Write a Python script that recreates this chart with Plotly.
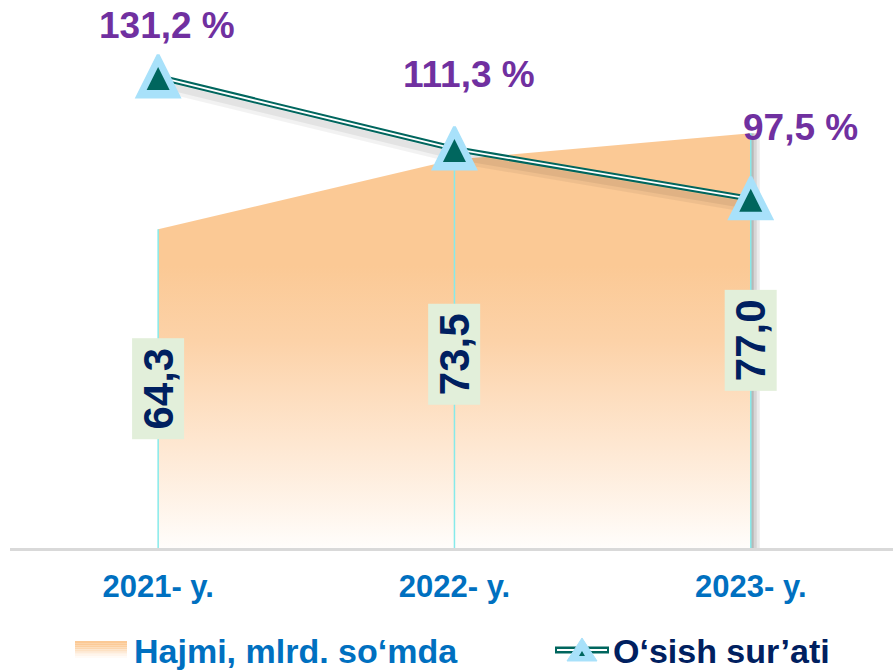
import plotly.graph_objects as go

# ---- data ----
categories = ["2021- y.", "2022- y.", "2023- y."]
volume = [64.3, 73.5, 77.0]          # Hajmi, mlrd. so'mda
growth = [131.2, 111.3, 97.5]        # O'sish sur'ati, %
volume_labels = ["64,3", "73,5", "77,0"]
growth_labels = ["131,2 %", "111,3 %", "97,5 %"]

# ---- layout constants ----
WIDTH, HEIGHT = 893, 671
L, R, T, B = 10, 0, 10, 123
PW, PH = WIDTH - L - R, HEIGHT - T - B
Y1_RANGE = [22.1, 93.3]
Y3_RANGE = [1.0, 149.7]
UNIT3 = (Y3_RANGE[1] - Y3_RANGE[0]) / PH          # data units per px
SHADOW_SHIFT = 7 * UNIT3                            # shadow drawn 7px lower
MARKER_SHIFT = -22 * UNIT3                          # arrow apex 22px above point
FONT = "Liberation Sans, Arial, sans-serif"
X_RANGE = [-0.5, 2.48]

def pxx(px):
    return (px - L) / PW

def pxy(py):
    return (HEIGHT - B - py) / PH

xs = list(range(len(categories)))

fig = go.Figure()

# area with vertical gradient
fig.add_trace(go.Scatter(
    x=xs, y=volume, mode="lines", line=dict(width=0, color="#FBC995"),
    fill="tozeroy",
    fillgradient=dict(type="vertical",
                      colorscale=[[0, "#FFFDFB"], [0.25, "#FEE7D1"], [0.5, "#FCD2A8"],
                                  [0.68, "#FBC995"], [1, "#FBC995"]],
                      start=Y1_RANGE[0], stop=max(volume)),
    showlegend=False, hoverinfo="skip", xaxis="x", yaxis="y"))

# drop lines
dx, dy = [], []
for i, v in enumerate(volume):
    dx += [i, i, None]
    dy += [Y1_RANGE[0], v, None]
fig.add_trace(go.Scatter(x=dx, y=dy, mode="lines",
                         line=dict(color="#86EAEA", width=1.5),
                         showlegend=False, hoverinfo="skip", yaxis="y"))

# line shadow (shifted axis)
fig.add_trace(go.Scatter(x=xs, y=growth, mode="lines",
                         line=dict(color="rgba(0,0,0,0.05)", width=14),
                         showlegend=False, hoverinfo="skip", yaxis="y2"))
fig.add_trace(go.Scatter(x=xs, y=growth, mode="lines",
                         line=dict(color="rgba(0,0,0,0.06)", width=7),
                         showlegend=False, hoverinfo="skip", yaxis="y2"))

# double line
fig.add_trace(go.Scatter(x=xs, y=growth, mode="lines",
                         line=dict(color="#00665E", width=6),
                         showlegend=False, hoverinfo="skip", yaxis="y3"))
fig.add_trace(go.Scatter(x=xs, y=growth, mode="lines",
                         line=dict(color="#FFFFFF", width=1.8),
                         showlegend=False, hoverinfo="skip", yaxis="y3"))
# markers (arrow-up shapes on an axis lifted so they sit centred on the points)
fig.add_trace(go.Scatter(x=xs, y=growth, mode="markers",
                         marker=dict(symbol="arrow-up", size=42, color="#A8E1FA",
                                     line=dict(color="#A8E1FA", width=3)),
                         showlegend=False, hoverinfo="skip", yaxis="y4"))
fig.add_trace(go.Scatter(x=xs, y=growth, mode="markers",
                         marker=dict(symbol="arrow-up", size=23, color="#00665E",
                                     standoff=12, line=dict(width=0)),
                         showlegend=False, hoverinfo="skip", yaxis="y4"))

annotations = []
# value labels (rotated) in middle of area
for i, (v, t) in enumerate(zip(volume, volume_labels)):
    annotations.append(dict(
        x=i, y=(Y1_RANGE[0] + v) / 2, xref="x", yref="y",
        text="<b>%s</b>" % t, textangle=-90, showarrow=False,
        font=dict(family=FONT, size=42, color="#002060"),
        bgcolor="#E2EFDA", borderpad=2, width=96))

# growth labels
offsets = [(9, 51), (15, 74), (50, 71)]
for i, (g, t) in enumerate(zip(growth, growth_labels)):
    annotations.append(dict(
        x=i, y=g, xref="x", yref="y3", text="<b>%s</b>" % t, showarrow=False,
        xshift=offsets[i][0], yshift=offsets[i][1],
        font=dict(family=FONT, size=37, color="#7030A0")))

# custom legend texts
annotations.append(dict(x=pxx(132), y=pxy(651), xref="paper", yref="paper",
                        xanchor="left", yanchor="middle", showarrow=False,
                        text="<b>Hajmi, mlrd. so‘mda</b>",
                        font=dict(family=FONT, size=34, color="#0070C0")))
annotations.append(dict(x=pxx(611), y=pxy(651), xref="paper", yref="paper",
                        xanchor="left", yanchor="middle", showarrow=False,
                        text="<b>O‘sish sur’ati</b>",
                        font=dict(family=FONT, size=34, color="#002060")))

shapes = []
# right-edge shadow of area
xstep = (X_RANGE[1] - X_RANGE[0]) / PW
for k, a in enumerate([0.28, 0.16, 0.08]):
    shapes.append(dict(type="rect", xref="x", yref="y", layer="below",
                       x0=xs[-1] + k * 3 * xstep, x1=xs[-1] + (k + 1) * 3 * xstep,
                       y0=Y1_RANGE[0], y1=volume[-1],
                       fillcolor="rgba(0,0,0,%.2f)" % a, line=dict(width=0)))

# legend swatch (gradient strips)
sw_cols = ["#FBC995", "#FBCA97", "#FCCF9F", "#FCD6AE", "#FDE1C3", "#FEEBD9", "#FFF5EC", "#FFFBF7"]
y_top, y_bot = 641, 658
step = (y_bot - y_top) / len(sw_cols)
for k, c in enumerate(sw_cols):
    shapes.append(dict(type="rect", xref="paper", yref="paper",
                       x0=pxx(75), x1=pxx(127),
                       y0=pxy(y_top + (k + 1) * step), y1=pxy(y_top + k * step),
                       fillcolor=c, line=dict(width=0)))
# legend line symbol
shapes.append(dict(type="line", xref="paper", yref="paper", x0=pxx(555), x1=pxx(609),
                   y0=pxy(650), y1=pxy(650), line=dict(color="#00665E", width=7)))
shapes.append(dict(type="line", xref="paper", yref="paper", x0=pxx(557), x1=pxx(607),
                   y0=pxy(650), y1=pxy(650), line=dict(color="#FFFFFF", width=2)))
shapes.append(dict(type="path", xref="paper", yref="paper",
                   path="M %f %f L %f %f L %f %f Z" % (pxx(582), pxy(638), pxx(597), pxy(661),
                                                      pxx(567), pxy(661)),
                   fillcolor="#A8E1FA", line=dict(color="#A8E1FA", width=1)))
shapes.append(dict(type="path", xref="paper", yref="paper",
                   path="M %f %f L %f %f L %f %f Z" % (pxx(582), pxy(651), pxx(585), pxy(656),
                                                      pxx(579), pxy(656)),
                   fillcolor="#00665E", line=dict(width=0)))

fig.update_layout(
    width=WIDTH, height=HEIGHT,
    margin=dict(l=L, r=R, t=T, b=B),
    paper_bgcolor="white", plot_bgcolor="white",
    showlegend=False,
    xaxis=dict(range=X_RANGE, tickmode="array", tickvals=xs,
               ticktext=["<b>%s</b>" % c for c in categories],
               tickfont=dict(family=FONT, size=31, color="#0070C0"),
               showgrid=False, zeroline=False, showline=True,
               linecolor="#D9D9D9", linewidth=3, ticks="", ticklabelstandoff=9,
               fixedrange=True),
    yaxis=dict(range=Y1_RANGE, visible=False, showgrid=False, zeroline=False),
    yaxis2=dict(range=[Y3_RANGE[0] + SHADOW_SHIFT, Y3_RANGE[1] + SHADOW_SHIFT],
                overlaying="y", visible=False, showgrid=False, zeroline=False),
    yaxis3=dict(range=Y3_RANGE, overlaying="y", visible=False,
                showgrid=False, zeroline=False),
    yaxis4=dict(range=[Y3_RANGE[0] + MARKER_SHIFT, Y3_RANGE[1] + MARKER_SHIFT],
                overlaying="y", visible=False, showgrid=False, zeroline=False),
    annotations=annotations,
    shapes=shapes,
)

fig.write_html("out.html", config={"displayModeBar": False},
               post_script="document.body.style.margin='0px';")
